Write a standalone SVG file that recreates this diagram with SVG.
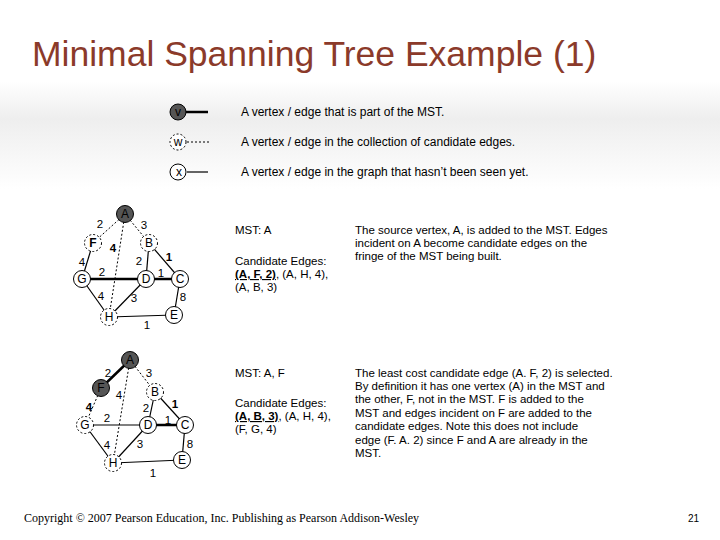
<svg xmlns="http://www.w3.org/2000/svg" width="720" height="540" viewBox="0 0 720 540">
<defs>
<linearGradient id="bg" x1="0" y1="0" x2="0" y2="1">
<stop offset="0" stop-color="#ffffff"/><stop offset="0.15" stop-color="#ffffff"/><stop offset="0.22" stop-color="#eeeeee"/><stop offset="0.35" stop-color="#ffffff"/><stop offset="1" stop-color="#ffffff"/>
</linearGradient>
</defs>
<style>
.t{font-family:"Liberation Sans",Arial,sans-serif;font-size:11.5px;fill:#000}
.l{font-family:"Liberation Sans",Arial,sans-serif;font-size:12px;fill:#000}
.w{font-family:"Liberation Sans",Arial,sans-serif;font-size:11.5px;fill:#000;text-anchor:middle}
.n{font-family:"Liberation Sans",Arial,sans-serif;font-size:12px;text-anchor:middle;dominant-baseline:central}
.e{stroke:#000;stroke-width:1.2;fill:none}
.m{stroke:#000;stroke-width:2.5;fill:none}
.c{stroke:#000;stroke-width:1;stroke-dasharray:2,2;fill:none}
.vs{fill:#fff;stroke:#000;stroke-width:1}
.vm{fill:#555;stroke:#000;stroke-width:1}
.vc{fill:#fff;stroke:#000;stroke-width:1;stroke-dasharray:2,2}
</style>
<rect width="720" height="540" fill="url(#bg)"/>
<text x="32" y="66" font-family="Liberation Sans,Arial,sans-serif" font-size="35.5" fill="#8b3a2a">Minimal Spanning Tree Example (1)</text>
<g id="legend">
<line class="m" x1="185" y1="112" x2="208" y2="112"/><circle class="vm" cx="178" cy="112" r="8"/><text class="n" x="178" y="112">v</text>
<line class="c" x1="187" y1="142" x2="210" y2="142"/><circle class="vc" cx="178" cy="142" r="8"/><text class="n" x="178" y="142">w</text>
<line class="e" x1="187" y1="172" x2="208" y2="172"/><circle class="vs" cx="178" cy="172" r="8"/><text class="n" x="179" y="172">x</text>
<text class="l" x="241" y="116">A vertex / edge that is part of the MST.</text>
<text class="l" x="241" y="146">A vertex / edge in the collection of candidate edges.</text>
<text class="l" x="241" y="176">A vertex / edge in the graph that hasn’t been seen yet.</text>
</g>
<g id="connectors">
<line class="c" x1="125" y1="214" x2="93" y2="243"/>
<line class="c" x1="125" y1="214" x2="149" y2="243"/>
<line class="c" x1="125" y1="214" x2="109" y2="317"/>
<line class="e" x1="93" y1="243" x2="82" y2="279"/>
<line class="e" x1="149" y1="243" x2="146" y2="279"/>
<line class="e" x1="149" y1="243" x2="180" y2="279"/>
<line class="m" x1="82" y1="279" x2="146" y2="279"/>
<line class="m" x1="146" y1="279" x2="180" y2="279"/>
<line class="e" x1="82" y1="279" x2="109" y2="317"/>
<line class="e" x1="146" y1="279" x2="109" y2="317"/>
<line class="e" x1="180" y1="279" x2="174" y2="315"/>
<line class="e" x1="109" y1="317" x2="174" y2="315"/>

<line class="m" x1="130" y1="360" x2="101" y2="388"/>
<line class="c" x1="130" y1="360" x2="155" y2="392"/>
<line class="c" x1="130" y1="360" x2="113" y2="463"/>
<line class="c" x1="101" y1="388" x2="85" y2="425"/>
<line class="e" x1="155" y1="392" x2="148" y2="425"/>
<line class="e" x1="155" y1="392" x2="185" y2="425"/>
<line class="e" x1="85" y1="425" x2="148" y2="425"/>
<line class="m" x1="148" y1="425" x2="185" y2="425"/>
<line class="e" x1="85" y1="425" x2="113" y2="463"/>
<line class="e" x1="148" y1="425" x2="113" y2="463"/>
<line class="e" x1="185" y1="425" x2="182" y2="460"/>
<line class="e" x1="113" y1="463" x2="182" y2="460"/>
</g>
<g id="weights1">
<text class="w" x="100" y="228">2</text><text class="w" x="144" y="229">3</text>
<text class="w" x="113" y="252" font-weight="bold">4</text><text class="w" x="82" y="266">4</text>
<text class="w" x="139" y="265">2</text><text class="w" x="169" y="261" font-weight="bold">1</text>
<text class="w" x="102" y="276">2</text><text class="w" x="161" y="277">1</text>
<text class="w" x="101" y="300">4</text><text class="w" x="134" y="302">3</text>
<text class="w" x="183" y="301">8</text><text class="w" x="147" y="329">1</text>
</g>
<g id="weights2">
<text class="w" x="108" y="377">2</text><text class="w" x="149" y="377">3</text>
<text class="w" x="119" y="399">4</text><text class="w" x="89" y="411" font-weight="bold">4</text>
<text class="w" x="146" y="412">2</text><text class="w" x="175" y="408" font-weight="bold">1</text>
<text class="w" x="107" y="422">2</text><text class="w" x="168" y="424">1</text>
<text class="w" x="107" y="449">4</text><text class="w" x="140" y="448">3</text>
<text class="w" x="190" y="448">8</text><text class="w" x="153" y="477">1</text>
</g>
<g id="A1"><circle class="vm" cx="125" cy="214" r="8.5"/><text class="n" x="125" y="214">A</text></g>
<g id="F1"><circle class="vc" cx="93" cy="243" r="8.5"/><text class="n" x="93" y="243" font-weight="bold">F</text></g>
<g id="B1"><circle class="vc" cx="149" cy="243" r="8.5"/><text class="n" x="149" y="243">B</text></g>
<g id="G1"><circle class="vs" cx="82" cy="279" r="8.5"/><text class="n" x="82" y="279">G</text></g>
<g id="D1"><circle class="vs" cx="146" cy="279" r="8.5"/><text class="n" x="146" y="279">D</text></g>
<g id="C1"><circle class="vs" cx="180" cy="279" r="8.5"/><text class="n" x="180" y="279">C</text></g>
<g id="H1"><circle class="vc" cx="109" cy="317" r="8.5"/><text class="n" x="109" y="317">H</text></g>
<g id="E1"><circle class="vs" cx="174" cy="315" r="8.5"/><text class="n" x="174" y="315">E</text></g>

<g id="A2"><circle class="vm" cx="130" cy="360" r="8.5"/><text class="n" x="130" y="360">A</text></g>
<g id="F2"><circle class="vm" cx="101" cy="388" r="8.5"/><text class="n" x="101" y="388">F</text></g>
<g id="B2"><circle class="vc" cx="155" cy="392" r="8.5"/><text class="n" x="155" y="392">B</text></g>
<g id="G2"><circle class="vc" cx="85" cy="425" r="8.5"/><text class="n" x="85" y="425">G</text></g>
<g id="D2"><circle class="vs" cx="148" cy="425" r="8.5"/><text class="n" x="148" y="425">D</text></g>
<g id="C2"><circle class="vs" cx="185" cy="425" r="8.5"/><text class="n" x="185" y="425">C</text></g>
<g id="H2"><circle class="vc" cx="113" cy="463" r="8.5"/><text class="n" x="113" y="463">H</text></g>
<g id="E2"><circle class="vs" cx="182" cy="460" r="8.5"/><text class="n" x="182" y="460">E</text></g>

<g id="text1">
<text class="t" x="235" y="234">MST: A</text>
<text class="t" x="235" y="265">Candidate Edges:</text>
<text class="t" x="235" y="278"><tspan font-weight="bold" text-decoration="underline">(A, F, 2)</tspan>, (A, H, 4),</text>
<text class="t" x="235" y="291">(A, B, 3)</text>
<text class="t" x="355" y="234">The source vertex, A, is added to the MST. Edges</text>
<text class="t" x="355" y="247">incident on A become candidate edges on the</text>
<text class="t" x="355" y="260">fringe of the MST being built.</text>
</g>
<g id="text2">
<text class="t" x="235" y="377">MST: A, F</text>
<text class="t" x="235" y="407">Candidate Edges:</text>
<text class="t" x="235" y="420"><tspan font-weight="bold" text-decoration="underline">(A, B, 3)</tspan>, (A, H, 4),</text>
<text class="t" x="235" y="433">(F, G, 4)</text>
<text class="t" x="355" y="377">The least cost candidate edge (A. F, 2) is selected.</text>
<text class="t" x="355" y="390">By definition it has one vertex (A) in the MST and</text>
<text class="t" x="355" y="403">the other, F, not in the MST. F is added to the</text>
<text class="t" x="355" y="417">MST and edges incident on F are added to the</text>
<text class="t" x="355" y="430">candidate edges. Note this does not include</text>
<text class="t" x="355" y="444">edge (F. A. 2) since F and A are already in the</text>
<text class="t" x="355" y="457">MST.</text>
</g>
<text x="24" y="522" font-family="Liberation Serif,Times New Roman,serif" font-size="12">Copyright © 2007 Pearson Education, Inc. Publishing as Pearson Addison-Wesley</text>
<text x="688" y="522" font-family="Liberation Sans,Arial,sans-serif" font-size="10">21</text>
</svg>
